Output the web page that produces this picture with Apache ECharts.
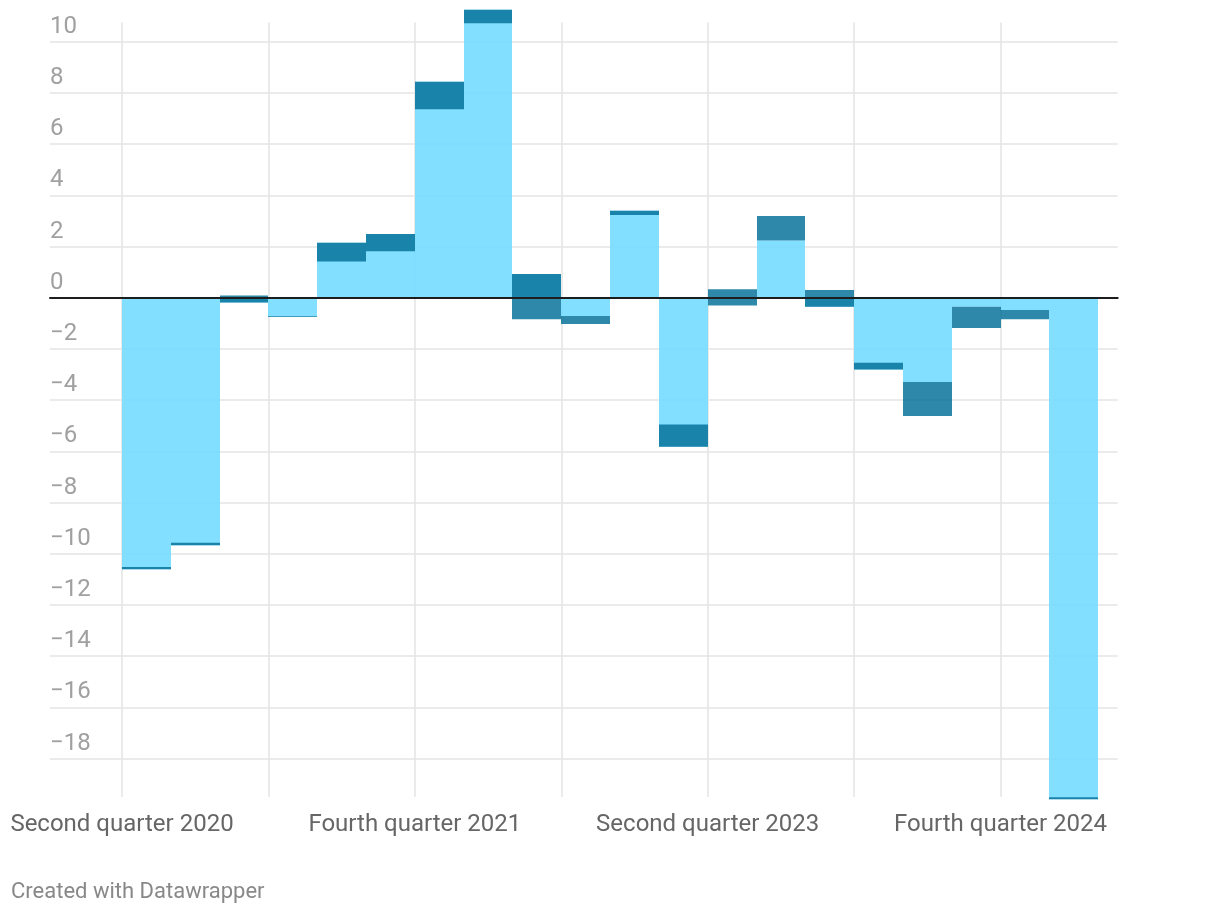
<!DOCTYPE html>
<html>
<head>
<meta charset="utf-8">
<script src="https://cdn.jsdelivr.net/npm/echarts@6/dist/echarts.min.js"></script>
<style>
html,body{margin:0;padding:0;background:#ffffff;}
#c{width:1220px;height:914px;}
</style>
</head>
<body>
<div id="c"></div>
<script>
// ---- data ----
const quarters = [
  "Second quarter 2020","Third quarter 2020","Fourth quarter 2020",
  "First quarter 2021","Second quarter 2021","Third quarter 2021","Fourth quarter 2021",
  "First quarter 2022","Second quarter 2022","Third quarter 2022","Fourth quarter 2022",
  "First quarter 2023","Second quarter 2023","Third quarter 2023","Fourth quarter 2023",
  "First quarter 2024","Second quarter 2024","Third quarter 2024","Fourth quarter 2024",
  "First quarter 2025"
];
// light bars (value)
const barValues = [-10.61,-9.67,-0.19,-0.74,2.15,2.49,8.44,11.25,0.93,-0.71,3.40,-5.82,0.00,2.23,-0.35,-2.80,-3.29,-0.35,-0.48,-19.59];
// dark range overlay (low / high)
const rangeLow  = [-10.61,-9.67,-0.19,-0.75,1.41,1.81,7.36,10.72,-0.84,-1.03,3.23,-5.82,-0.30,2.23,-0.35,-2.80,-4.62,-1.18,-0.84,-19.59];
const rangeHigh = [-10.52,-9.57,0.09,-0.72,2.15,2.49,8.44,11.25,0.93,-0.71,3.40,-4.95,0.33,3.19,0.30,-2.54,-3.29,-0.35,-0.48,-19.51];
const xLabelStep = 6;
const footerText = "Created with Datawrapper";

// ---- build ----
const lightData = barValues.map((v, i) => [i, Math.min(0, v), Math.max(0, v)]);
const darkData = rangeLow.map((lo, i) => [i, lo, rangeHigh[i]]);

function rectRenderer(color) {
  return function (params, api) {
    const i = api.value(0), lo = api.value(1), hi = api.value(2);
    const p1 = api.coord([i, hi]);
    const p2 = api.coord([i + 1, lo]);
    const x1 = Math.round(p1[0]), x2 = Math.round(p2[0]);
    return {
      type: 'rect',
      shape: { x: x1, y: p1[1], width: x2 - x1, height: p2[1] - p1[1] },
      style: { fill: color }
    };
  };
}

const fmtNum = v => (v < 0 ? '\u2212' + Math.abs(v) : String(v));

const chart = echarts.init(document.getElementById('c'), null, { renderer: 'canvas' });
chart.setOption({
  animation: false,
  backgroundColor: '#ffffff',
  textStyle: { fontFamily: 'Roboto' },
  grid: [
    { left: 50, right: 102.3, top: 41.7, bottom: 155.5 },
    { left: 122, right: 102.3, top: 22.5, bottom: 117.1 }
  ],
  xAxis: [
    {
      gridIndex: 0, type: 'value', min: 0, max: 1, z: 10,
      axisLine: { show: true, onZero: true, lineStyle: { color: '#1d1d1d', width: 2 } },
      axisTick: { show: false }, axisLabel: { show: false }, splitLine: { show: false }
    },
    {
      gridIndex: 1, type: 'value', min: 0, max: 20.4, interval: 3,
      axisLine: { show: false }, axisTick: { show: false },
      splitLine: { show: true, showMaxLine: false, lineStyle: { color: '#e5e5e5', width: 1.6 } },
      axisLabel: {
        color: '#666666', fontSize: 24, fontFamily: 'Roboto', margin: 16,
        showMaxLabel: false,
        formatter: v => (Math.round(v) % xLabelStep === 0 && quarters[Math.round(v)]) ? quarters[Math.round(v)] : ''
      }
    }
  ],
  yAxis: [
    {
      gridIndex: 0, type: 'value', min: -18, max: 10, interval: 2,
      axisLine: { show: false }, axisTick: { show: false },
      splitLine: { show: true, lineStyle: { color: '#e5e5e5', width: 1.6 } },
      axisLabel: {
        inside: true, verticalAlign: 'bottom', align: 'left',
        color: '#a0a0a0', fontSize: 24, fontFamily: 'Roboto',
        padding: [0, 0, 3, 0], margin: 0,
        formatter: fmtNum
      }
    },
    { gridIndex: 1, type: 'value', min: -19.5, max: 10.75, show: false }
  ],
  series: [
    {
      type: 'custom', xAxisIndex: 1, yAxisIndex: 1, clip: false,
      encode: { x: 0, y: [1, 2] },
      renderItem: rectRenderer('rgba(116,219,255,0.9)'),
      data: lightData, z: 2
    },
    {
      type: 'custom', xAxisIndex: 1, yAxisIndex: 1, clip: false,
      encode: { x: 0, y: [1, 2] },
      renderItem: rectRenderer('rgba(6,113,154,0.84)'),
      data: darkData, z: 3
    }
  ],
  graphic: [
    {
      type: 'text', left: 11, top: 881,
      style: { text: footerText, fontSize: 22, fill: '#888888', fontFamily: 'Roboto' }
    }
  ]
});
</script>
</body>
</html>
